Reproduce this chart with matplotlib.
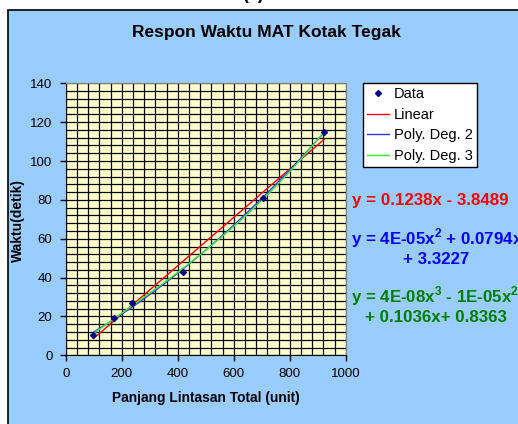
import numpy as np
import matplotlib
matplotlib.use("Agg")
import matplotlib.pyplot as plt
from matplotlib.patches import Rectangle
from matplotlib.ticker import MultipleLocator

plt.rcParams['font.family'] = ['Liberation Sans', 'DejaVu Sans']
plt.rcParams['mathtext.fontset'] = 'custom'
plt.rcParams['mathtext.rm'] = 'Liberation Sans'
plt.rcParams['mathtext.bf'] = 'Liberation Sans:bold'

# Data
x_data = [99, 173, 236, 418, 704, 924]
y_data = [10.4, 19.2, 26.8, 43.0, 81.1, 115.1]
series_names = ["Data", "Linear", "Poly. Deg. 2", "Poly. Deg. 3"]
eq_linear = "y = 0.1238x - 3.8489"
eq_poly2 = [r"y = 4E-05x$^{\mathbf{2}}$ + 0.0794x", "+ 3.3227"]
eq_poly3 = [r"y = 4E-08x$^{\mathbf{3}}$ - 1E-05x$^{\mathbf{2}}$", "+ 0.1036x+ 0.8363"]
title = "Respon Waktu MAT Kotak Tegak"
xlabel = "Panjang Lintasan Total (unit)"
ylabel = "Waktu(detik)"

W, H = 518, 424
fig = plt.figure(figsize=(W / 100, H / 100), dpi=100)
fig.patch.set_facecolor('white')

def fx(px):
    return px / W

def fy(py):
    return 1 - py / H

# chart area background
bg = Rectangle((fx(7.5), -0.1), 1.2, fy(9.5) + 0.1, transform=fig.transFigure,
               facecolor='#99CCFF', edgecolor='black', lw=1.2, zorder=-5)
fig.add_artist(bg)
fig.text(fx(253), fy(-1), "(a)", ha='center', va='baseline', fontsize=13, fontweight='bold')

ax = fig.add_axes([fx(65.7), fy(355.3), (345.7 - 65.7) / W, (355.3 - 83.3) / H])
ax.set_zorder(1)
ax.set_facecolor('#FFFFCC')
ax.set_xlim(0, 1000)
ax.set_ylim(0, 140)
ax.xaxis.set_major_locator(MultipleLocator(200))
ax.yaxis.set_major_locator(MultipleLocator(20))
ax.xaxis.set_minor_locator(MultipleLocator(40))
ax.yaxis.set_minor_locator(MultipleLocator(4))
ax.grid(True, which='both', color='black', lw=0.9)
ax.tick_params(which='minor', length=0)
ax.tick_params(which='major', direction='out', length=4.5, width=1, labelsize=9.5,
               colors='black', pad=5)
ax.set_axisbelow(True)
for s in ['top', 'right']:
    ax.spines[s].set_color('#808080')
for s in ['left', 'bottom']:
    ax.spines[s].set_color('black')

xs = np.linspace(min(x_data), max(x_data), 200)
c1 = np.polyfit(x_data, y_data, 1)
c2 = np.polyfit(x_data, y_data, 2)
c3 = np.polyfit(x_data, y_data, 3)
h0, = ax.plot(x_data, y_data, linestyle='none', marker='D', markersize=3, color='#000080', zorder=5)
h1, = ax.plot(xs, np.polyval(c1, xs), color='#FF0000', lw=1)
h2, = ax.plot(xs, np.polyval(c2, xs), color='#3333FF', lw=1)
h3, = ax.plot(xs, np.polyval(c3, xs), color='#33EE33', lw=1)

leg = fig.legend([h0, h1, h2, h3], series_names, loc='upper left',
                 bbox_to_anchor=(fx(363), fy(82.7)), fontsize=10.5, frameon=True,
                 fancybox=False, edgecolor='black', framealpha=1, borderpad=0.3,
                 handlelength=1.5, handletextpad=0.3, labelspacing=0.45, borderaxespad=0)
leg.get_frame().set_linewidth(1)
leg.set_zorder(2)

fig.text(fx(266), fy(32), title, ha='center', va='center', fontsize=12.5, fontweight='bold')
fig.text(fx(206), fy(398), xlabel, ha='center', va='center', fontsize=9.9, fontweight='bold')
fig.text(fx(18), fy(220), ylabel, ha='center', va='center', rotation=90, fontsize=10, fontweight='bold')

eq_fs = 12.2
fig.text(fx(352), fy(200), eq_linear, ha='left', va='center', fontsize=eq_fs, fontweight='bold', color='#FF0000')
fig.text(fx(351), fy(238), eq_poly2[0], ha='left', va='center', fontsize=eq_fs, fontweight='bold', color='#0000FF')
fig.text(fx(436), fy(260), eq_poly2[1], ha='center', va='center', fontsize=eq_fs, fontweight='bold', color='#0000FF')
fig.text(fx(351), fy(296), eq_poly3[0], ha='left', va='center', fontsize=eq_fs, fontweight='bold', color='#008000')
fig.text(fx(436), fy(318), eq_poly3[1], ha='center', va='center', fontsize=eq_fs, fontweight='bold', color='#008000')

fig.savefig("out.png", dpi=100)
